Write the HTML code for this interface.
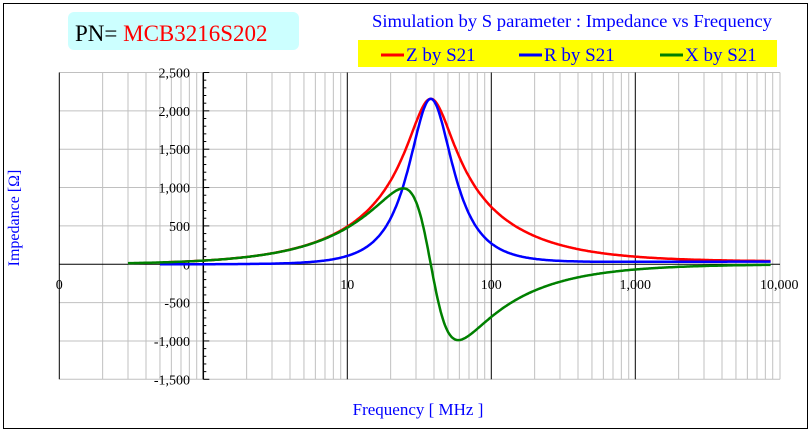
<!DOCTYPE html>
<html><head><meta charset="utf-8"><style>
body{margin:0;background:#fff;}
svg{display:block;font-family:"Liberation Serif",serif;}
</style></head><body>
<svg id="s" width="811" height="432" xmlns="http://www.w3.org/2000/svg">
<rect x="3.5" y="3.5" width="804" height="425" fill="#fff" stroke="#000" stroke-width="1"/>
<rect x="68" y="12" width="231" height="38" rx="6" fill="#ccffff"/>
<text x="75" y="41" font-size="23" fill="#000">PN= <tspan fill="#ff0000">MCB3216S202</tspan></text>
<text x="572" y="27" font-size="18" fill="#0000ff" text-anchor="middle" textLength="400" lengthAdjust="spacingAndGlyphs">Simulation by S parameter : Impedance vs Frequency</text>
<rect x="358" y="40" width="419" height="27" fill="#ffff00"/>
<line x1="381" y1="55" x2="404" y2="55" stroke="#ff0000" stroke-width="3"/>
<text x="406" y="61" font-size="19" fill="#0000ff">Z by S21</text>
<line x1="519" y1="55" x2="542" y2="55" stroke="#0000ff" stroke-width="3"/>
<text x="544" y="61" font-size="19" fill="#0000ff">R by S21</text>
<line x1="660" y1="55" x2="683" y2="55" stroke="#008000" stroke-width="3"/>
<text x="685" y="61" font-size="19" fill="#0000ff">X by S21</text>
<g id="grid"></g>
<g id="curves" fill="none" stroke-width="2.5" stroke-linejoin="round"></g>
<text x="19" y="218" font-size="16" fill="#0000ff" text-anchor="middle" transform="rotate(-90 19 218)">Impedance [Ω]</text>
<text x="418" y="415" font-size="17" fill="#0000ff" text-anchor="middle">Frequency [ MHz ]</text>
</svg>
<script>
const NS="http://www.w3.org/2000/svg";
const L=59.5,R=780,Y0=203.3,DEC=144,TOP=72.5,STEP=38.35;
const fx=f=>Y0+DEC*Math.log10(f);
const vy=v=>TOP+(2500-v)/500*STEP;
const g=document.getElementById('grid');
function el(t,a,p,txt){const e=document.createElementNS(NS,t);for(const k in a)e.setAttribute(k,a[k]);if(txt!==undefined)e.textContent=txt;(p||g).appendChild(e);return e;}
const bot=vy(-1500);
for(let d=-1;d<=3;d++)for(let m=2;m<=9;m++){const x=fx(m*Math.pow(10,d));if(x<R)el('line',{x1:x,y1:TOP,x2:x,y2:bot,stroke:'#c0c0c0','stroke-width':1});}
for(let v=-1500;v<=2500;v+=500){if(v==0)continue;el('line',{x1:L,y1:vy(v),x2:R,y2:vy(v),stroke:'#c0c0c0','stroke-width':1});}
[0.1,10,100,1000].forEach(f=>{const x=fx(f);el('line',{x1:x,y1:TOP,x2:x,y2:bot,stroke:'#000','stroke-width':1});});
el('line',{x1:R,y1:TOP,x2:R,y2:bot,stroke:'#c0c0c0','stroke-width':1});
el('line',{x1:L,y1:vy(0),x2:R,y2:vy(0),stroke:'#000','stroke-width':1});
el('line',{x1:Y0,y1:TOP,x2:Y0,y2:bot,stroke:'#000','stroke-width':1.5});
for(let v=-1500;v<=2500;v+=100){const y=vy(v);el('line',{x1:Y0,y1:y,x2:Y0+(v%500==0?6:3),y2:y,stroke:'#000','stroke-width':1});}
for(let v=-1500;v<=2500;v+=500){const s=v.toLocaleString('en-US');el('text',{x:190,y:vy(v)+5,'font-size':14,'text-anchor':'end','font-family':'Liberation Serif,serif'},g,s);}
[['0',0.1],['10',10],['100',100],['1,000',1000],['10,000',10000]].forEach(([s,f])=>el('text',{x:fx(f),y:289,'font-size':14,'text-anchor':'middle','font-family':'Liberation Serif,serif'},g,s));
const Rp=2150,f0=38,Q=1.1;
function z(f){const b=Q*(f/f0-f0/f);const d=1+b*b;return {r:Rp/Math.pow(d,1.08),x:-0.92*Rp*b/d};}
const c=document.getElementById('curves');
function path(f1,f2,fn,col){let p='';for(let i=0;i<=600;i++){const f=f1*Math.pow(f2/f1,i/600);const v=fn(f);p+=(i?'L':'M')+fx(f).toFixed(1)+' '+vy(v).toFixed(1);}el('path',{d:p,stroke:col},c);}
const fl=f=>35*f/(f+150);
path(0.55,8700,f=>{const q=z(f);return Math.hypot(q.r,q.x)+fl(f);},'#ff0000');
path(0.5,8700,f=>z(f).r+fl(f),'#0000ff');
path(0.3,8700,f=>z(f).x,'#008000');
</script>
</body></html>
